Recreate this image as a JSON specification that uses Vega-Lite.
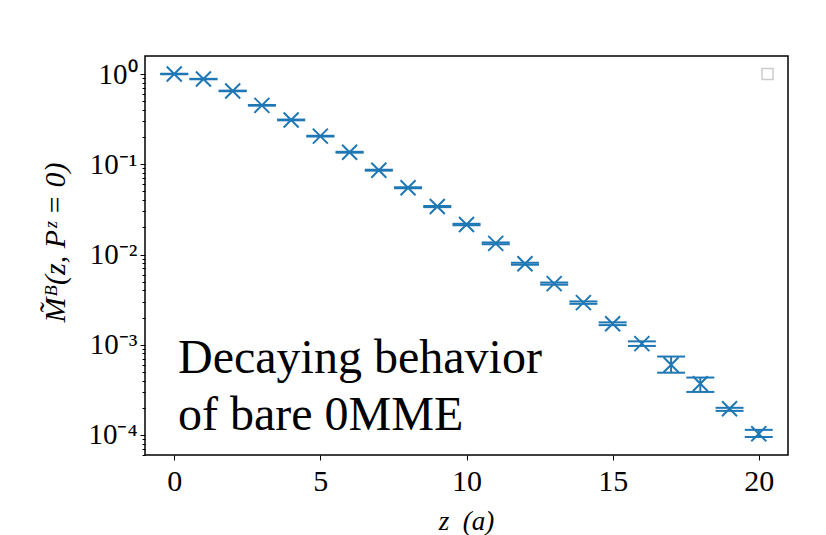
{
  "$schema": "https://vega.github.io/schema/vega-lite/v6.json",
  "width": 643,
  "height": 399,
  "autosize": {"type": "none"},
  "padding": {"left": 145, "top": 56, "right": 38, "bottom": 80},
  "background": "white",
  "config": {
    "view": {"stroke": "black", "strokeWidth": 1.5},
    "font": "Liberation Serif",
    "axis": {
      "labelFont": "Liberation Serif",
      "titleFont": "Liberation Serif",
      "labelFontSize": 30,
      "titleFontSize": 27,
      "titleFontWeight": "normal",
      "labelColor": "black",
      "titleColor": "black",
      "tickColor": "black",
      "grid": false,
      "domain": false
    }
  },
  "datasets": {
    "pts": [
      {"z": 0, "v": 1.0, "lo": 0.995, "hi": 1.005},
      {"z": 1, "v": 0.88, "lo": 0.875, "hi": 0.885},
      {"z": 2, "v": 0.65, "lo": 0.645, "hi": 0.655},
      {"z": 3, "v": 0.45, "lo": 0.446, "hi": 0.454},
      {"z": 4, "v": 0.31, "lo": 0.307, "hi": 0.313},
      {"z": 5, "v": 0.205, "lo": 0.203, "hi": 0.207},
      {"z": 6, "v": 0.136, "lo": 0.1345, "hi": 0.1375},
      {"z": 7, "v": 0.086, "lo": 0.085, "hi": 0.087},
      {"z": 8, "v": 0.055, "lo": 0.0543, "hi": 0.0557},
      {"z": 9, "v": 0.034, "lo": 0.0335, "hi": 0.0345},
      {"z": 10, "v": 0.0215, "lo": 0.0211, "hi": 0.0219},
      {"z": 11, "v": 0.0133, "lo": 0.013, "hi": 0.0136},
      {"z": 12, "v": 0.0079, "lo": 0.0077, "hi": 0.0081},
      {"z": 13, "v": 0.00476, "lo": 0.00463, "hi": 0.00489},
      {"z": 14, "v": 0.00293, "lo": 0.00284, "hi": 0.00302},
      {"z": 15, "v": 0.00171, "lo": 0.00165, "hi": 0.00177},
      {"z": 16, "v": 0.00103, "lo": 0.00097, "hi": 0.00109},
      {"z": 17, "v": 0.0006, "lo": 0.00049, "hi": 0.00074},
      {"z": 18, "v": 0.00037, "lo": 0.0003, "hi": 0.000433},
      {"z": 19, "v": 0.000195, "lo": 0.000185, "hi": 0.0002},
      {"z": 20, "v": 0.000103, "lo": 0.000095, "hi": 0.000114}
    ],
    "note": [
      {"z": 0.13, "v": 0.00049, "label": "Decaying behavior\nof bare 0MME"}
    ],
    "legendbox": [
      {"z": 20.3, "v": 1.0}
    ]
  },
  "layer": [
    {
      "data": {"name": "pts"},
      "mark": {"type": "rule", "color": "#1f77b4", "strokeWidth": 2},
      "encoding": {
        "x": {
          "field": "z", "type": "quantitative",
          "scale": {"domain": [-1, 21], "nice": false, "zero": false},
          "axis": {
            "values": [0, 5, 10, 15, 20],
            "labelFontSize": 30,
            "tickSize": 5,
            "tickWidth": 1,
            "labelPadding": 6,
            "title": "z\u00a0\u00a0(a)",
            "titleFontSize": 27,
            "titleFontWeight": "normal",
            "titleFontStyle": "italic",
            "titleX": 321,
            "titleY": 66,
            "titleBaseline": "middle",
            "titleAlign": "center"
          }
        },
        "y": {
          "field": "lo", "type": "quantitative",
          "scale": {"type": "log", "domain": [0.00006, 1.585], "nice": false},
          "axis": {
            "orient": "left",
            "values": [0.00006, 0.00007, 0.00008, 0.00009, 0.0002, 0.0003, 0.0004, 0.0005, 0.0006, 0.0007, 0.0008, 0.0009, 0.002, 0.003, 0.004, 0.005, 0.006, 0.007, 0.008, 0.009, 0.02, 0.03, 0.04, 0.05, 0.06, 0.07, 0.08, 0.09, 0.2, 0.3, 0.4, 0.5, 0.6, 0.7, 0.8, 0.9],
            "labels": false,
            "tickSize": 3,
            "tickWidth": 1,
            "title": null
          }
        },
        "y2": {"field": "hi"}
      }
    },
    {
      "data": {"name": "pts"},
      "mark": {"type": "tick", "orient": "horizontal", "color": "#1f77b4", "size": 28, "thickness": 2, "opacity": 1},
      "encoding": {
        "x": {"field": "z", "type": "quantitative"},
        "y": {"field": "lo", "type": "quantitative", "axis": null}
      }
    },
    {
      "data": {"name": "pts"},
      "mark": {"type": "tick", "orient": "horizontal", "color": "#1f77b4", "size": 28, "thickness": 2, "opacity": 1},
      "encoding": {
        "x": {"field": "z", "type": "quantitative"},
        "y": {"field": "hi", "type": "quantitative", "axis": null}
      }
    },
    {
      "data": {"name": "pts"},
      "mark": {"type": "point", "shape": "M-1,-1L1,1M-1,1L1,-1", "filled": false, "stroke": "#1f77b4", "strokeWidth": 2, "size": 225, "opacity": 1},
      "encoding": {
        "x": {"field": "z", "type": "quantitative"},
        "y": {
          "field": "v", "type": "quantitative",
          "axis": {
            "orient": "left",
            "values": [1, 0.1, 0.01, 0.001, 0.0001],
            "labelExpr": "datum.value == 1 ? '10⁰' : datum.value == 0.1 ? '10⁻¹' : datum.value == 0.01 ? '10⁻²' : datum.value == 0.001 ? '10⁻³' : '10⁻⁴'",
            "labelFontSize": 29,
            "tickSize": 5,
            "tickWidth": 1,
            "labelPadding": 3,
            "title": "M̃ᴮ(z, Pᶻ = 0)",
            "titleFontSize": 30,
            "titleFontWeight": "normal",
            "titleFontStyle": "italic",
            "titleAngle": -90,
            "titleX": -90,
            "titleY": 186,
            "titleAlign": "center",
            "titleBaseline": "middle"
          }
        }
      }
    },
    {
      "data": {"name": "note"},
      "mark": {"type": "text", "align": "left", "baseline": "alphabetic", "fontSize": 48, "font": "Liberation Serif", "color": "black", "lineBreak": "\n", "lineHeight": 57},
      "encoding": {
        "x": {"field": "z", "type": "quantitative"},
        "y": {"field": "v", "type": "quantitative", "axis": null},
        "text": {"field": "label"}
      }
    },
    {
      "data": {"name": "legendbox"},
      "mark": {"type": "point", "shape": "square", "filled": false, "stroke": "#cccccc", "strokeWidth": 1.5, "size": 120, "opacity": 1},
      "encoding": {
        "x": {"field": "z", "type": "quantitative"},
        "y": {"field": "v", "type": "quantitative", "axis": null}
      }
    }
  ],
  "resolve": {"axis": {"y": "independent"}}
}
